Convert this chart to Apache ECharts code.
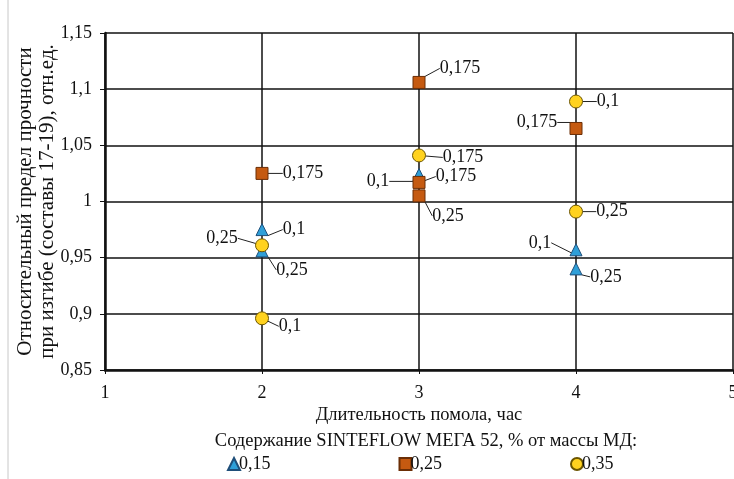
<!DOCTYPE html>
<html>
<head>
<meta charset="utf-8">
<script src="https://cdn.jsdelivr.net/npm/echarts@6/dist/echarts.min.js"></script>
<style>
  html, body { margin: 0; padding: 0; background: #fff; }
  #chart { width: 734px; height: 479px; }
</style>
</head>
<body>
<div id="chart"></div>
<script>
  // данные: [длительность помола, прочность, подпись]
  var hours15 = [2, 2, 3, 4, 4];
  var values15 = [0.975, 0.956, 1.024, 0.957, 0.940];
  var labels15 = ['0,1', '0,25', '0,175', '0,1', '0,25'];

  var hours25 = [2, 3, 3, 3, 4];
  var values25 = [1.025, 1.106, 1.017, 1.005, 1.065];
  var labels25 = ['0,175', '0,175', '0,1', '0,25', '0,175'];

  var hours35 = [2, 2, 3, 4, 4];
  var values35 = [0.961, 0.896, 1.041, 1.089, 0.991];
  var labels35 = ['0,25', '0,1', '0,175', '0,1', '0,25'];

  var seriesNames = ['0,15', '0,25', '0,35'];

  // смещения подписей (dx, dy) в пикселях
  var shift15 = [[32, 0], [30, 19], [37, 2], [-36, -7], [30, 8]];
  var shift25 = [[41, 0], [41, -14], [-41, -1], [29, 20], [-39, -6]];
  var shift35 = [[-40, -7], [28, 8], [44, 2], [32, 0], [36, 0]];

  var font = '"Liberation Serif", "Times New Roman", serif';
  var fs = 18;

  function pts(xs, ys, ls) {
    return xs.map(function (x, i) { return [x, ys[i], ls[i]]; });
  }

  var myChart = echarts.init(document.getElementById('chart'));

  function makeSeries(name, data, shifts, symbol, size, color, border) {
    return {
      name: name,
      type: 'scatter',
      symbol: symbol,
      symbolSize: size,
      data: data,
      itemStyle: { color: color, borderColor: border, borderWidth: 1, opacity: 1 },
      label: {
        show: true,
        position: 'inside',
        formatter: function (p) { return p.data[2]; },
        color: '#111',
        fontFamily: font,
        fontSize: fs
      },
      labelLine: { show: true, lineStyle: { color: '#222', width: 1 } },
      labelLayout: function (p) {
        var s = shifts[p.dataIndex];
        return { dx: s[0], dy: s[1] };
      },
      emphasis: { disabled: true }
    };
  }

  var option = {
    animation: false,
    graphic: [{
      type: 'line',
      shape: { x1: 8, y1: 0, x2: 8, y2: 479 },
      style: { stroke: '#c8c8c8', lineWidth: 1 }
    }],
    title: {
      text: 'Содержание SINTEFLOW МЕГА 52, % от массы МД:',
      left: 421,
      textAlign: 'center',
      top: 427,
      textStyle: { fontFamily: font, fontSize: 18.5, fontWeight: 'normal', color: '#111' }
    },
    grid: { left: 105, right: 1, top: 33, bottom: 109, outerBoundsMode: 'none' },
    legend: {
      bottom: 1,
      left: 222,
      itemGap: 128,
      itemWidth: 12,
      itemHeight: 12,
      textStyle: { fontFamily: font, fontSize: fs, color: '#111', padding: [0, 0, 0, -6] },
      data: [
        { name: seriesNames[0], icon: 'triangle' },
        { name: seriesNames[1], icon: 'rect' },
        { name: seriesNames[2], icon: 'circle' }
      ]
    },
    xAxis: {
      type: 'value',
      min: 1,
      max: 5,
      interval: 1,
      name: 'Длительность помола, час',
      nameLocation: 'middle',
      nameGap: 36,
      nameMoveOverlap: false,
      nameTextStyle: { fontFamily: font, fontSize: 18.5, color: '#111' },
      axisLine: { show: true, onZero: false, lineStyle: { color: '#111', width: 2.5 } },
      axisTick: { show: true, length: 4, lineStyle: { color: '#111' } },
      axisLabel: { fontFamily: font, fontSize: fs, color: '#111', margin: 14 },
      splitLine: { show: true, lineStyle: { color: '#111', width: 1.5 } }
    },
    yAxis: {
      type: 'value',
      min: 0.85,
      max: 1.15,
      interval: 0.05,
      name: 'Относительный предел прочности\nпри изгибе (составы 17-19), отн.ед.',
      nameLocation: 'middle',
      nameRotate: 90,
      nameGap: 47,
      nameMoveOverlap: false,
      nameTextStyle: { fontFamily: font, fontSize: 21, color: '#111', lineHeight: 22 },
      axisLine: { show: true, lineStyle: { color: '#111', width: 2.5 } },
      axisTick: { show: true, length: 5, lineStyle: { color: '#111' } },
      axisLabel: {
        fontFamily: font, fontSize: fs, color: '#111', margin: 13,
        formatter: function (v) { return String(+v.toFixed(2)).replace('.', ','); }
      },
      splitLine: { show: true, lineStyle: { color: '#111', width: 1.5 } }
    },
    series: [
      makeSeries(seriesNames[0], pts(hours15, values15, labels15), shift15, 'triangle', 12, '#2f9fd8', '#1f4e79'),
      makeSeries(seriesNames[1], pts(hours25, values25, labels25), shift25, 'rect', 12, '#c55a11', '#6b2e06'),
      makeSeries(seriesNames[2], pts(hours35, values35, labels35), shift35, 'circle', 13, '#ffd21f', '#6b5500')
    ]
  };

  myChart.setOption(option);
</script>
</body>
</html>
